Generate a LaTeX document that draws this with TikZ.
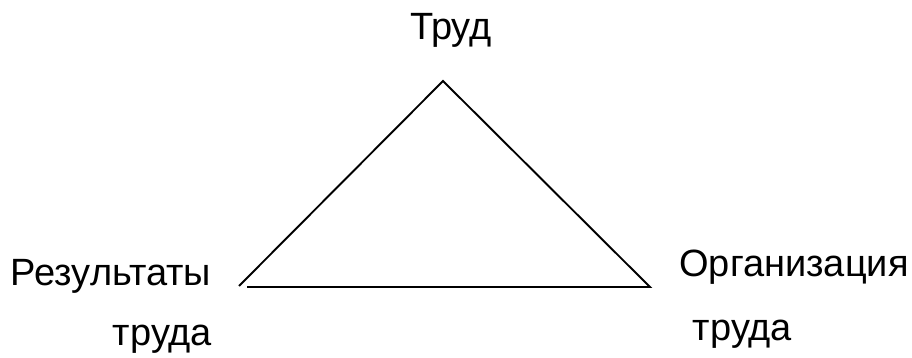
\documentclass[tikz,border=0pt]{standalone}
\usepackage{fontspec}
\setmainfont{Liberation Sans}
\begin{document}
\begin{tikzpicture}[x=1pt,y=-1pt,
  lbl/.style={anchor=base,inner sep=0pt,font=\fontsize{38}{44}\selectfont},
  edge/.style={line width=1.9pt,black}]
\useasboundingbox (0,0) rectangle (912,358);
\coordinate (apex) at (443,81);
\coordinate (left) at (239,286);
\coordinate (bl) at (247,287);
\coordinate (right) at (650,287);
\draw[edge] (left) -- (apex) -- (right) -- (bl);
\node[lbl] (top) at (451,40) {Труд};
\node[lbl] (res) at (111,285) {Результаты};
\node[lbl] (tr1) at (162.5,345) {труда};
\node[lbl] (org) at (794,276) {Организация};
\node[lbl] (tr2) at (742.5,340) {труда};
\end{tikzpicture}
\end{document}
